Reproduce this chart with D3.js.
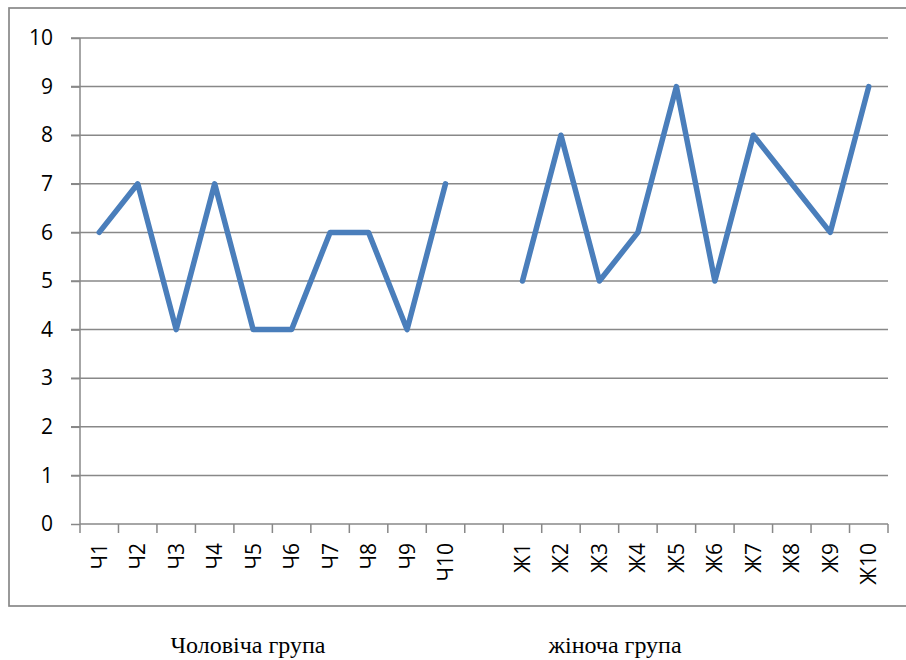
<!DOCTYPE html>
<html>
<head>
<meta charset="utf-8">
<script src="https://cdn.jsdelivr.net/npm/d3@7"></script>
<style>
  body { margin: 0; background: #fff; }
  svg { display: block; }
</style>
</head>
<body>
<svg id="chart" width="906" height="660"></svg>
<script>
// categories (empty one separates the two groups)
var categories = ["Ч1", "Ч2", "Ч3", "Ч4", "Ч5", "Ч6", "Ч7", "Ч8", "Ч9", "Ч10", "",
                  "Ж1", "Ж2", "Ж3", "Ж4", "Ж5", "Ж6", "Ж7", "Ж8", "Ж9", "Ж10"];
var values = [6, 7, 4, 7, 4, 4, 6, 6, 4, 7, null,
              5, 8, 5, 6, 9, 5, 8, 7, 6, 9];
var yTicks = [0, 1, 2, 3, 4, 5, 6, 7, 8, 9, 10];
var groupLabels = ["Чоловіча група", "жіноча група"];

var svg = d3.select("#chart");

var plotL = 80, plotR = 888, plotT = 38, plotB = 524;
var grey = "#888888";
var tickFont = "'Open Sans', sans-serif";

// outer chart border
svg.append("rect")
    .attr("x", 9).attr("y", 8)
    .attr("width", 906).attr("height", 598)
    .style("fill", "none")
    .style("stroke", grey)
    .style("stroke-width", 1.7);

var x = d3.scaleBand().domain(d3.range(categories.length))
    .range([plotL, plotR]).padding(0);
var y = d3.scaleLinear().domain([0, 10]).range([plotB, plotT]);

// gridlines
svg.append("g").selectAll("line")
    .data(yTicks.filter(function(d) { return d > 0; }))
    .enter().append("line")
    .attr("x1", plotL - 9).attr("x2", plotR)
    .attr("y1", function(d) { return y(d); })
    .attr("y2", function(d) { return y(d); })
    .style("stroke", grey)
    .style("stroke-width", 1.5);

// y axis
var yAxis = svg.append("g")
    .attr("transform", "translate(" + plotL + ",0)")
    .call(d3.axisLeft(y).tickValues(yTicks).tickSize(9).tickPadding(18));
yAxis.selectAll("line, path").style("stroke", grey).style("stroke-width", 1.5);
yAxis.select(".domain").attr("d", "M0," + plotB + "V" + plotT);
yAxis.selectAll("text")
    .style("font-family", tickFont)
    .style("font-size", "21px")
    .style("fill", "#000");

// x axis: ticks on band boundaries
var xg = svg.append("g");
xg.append("line")
    .attr("x1", plotL).attr("x2", plotR)
    .attr("y1", plotB).attr("y2", plotB)
    .style("stroke", grey).style("stroke-width", 1.5);
xg.selectAll("line.tick")
    .data(d3.range(categories.length + 1))
    .enter().append("line")
    .attr("class", "tick")
    .attr("x1", function(d) { return plotL + d * x.bandwidth(); })
    .attr("x2", function(d) { return plotL + d * x.bandwidth(); })
    .attr("y1", plotB).attr("y2", plotB + 9)
    .style("stroke", grey).style("stroke-width", 1.5);
xg.selectAll("text")
    .data(categories)
    .enter().append("text")
    .attr("transform", function(d, i) {
        return "translate(" + (x(i) + x.bandwidth() / 2 + 7.5) + "," + (plotB + 19) + ") rotate(-90)";
    })
    .attr("text-anchor", "end")
    .style("font-family", tickFont)
    .style("font-size", "21px")
    .text(function(d) { return d; });

// line
var line = d3.line()
    .defined(function(d) { return d != null; })
    .x(function(d, i) { return x(i) + x.bandwidth() / 2; })
    .y(function(d) { return y(d); });

svg.append("path")
    .datum(values)
    .attr("d", line)
    .style("fill", "none")
    .style("stroke", "#4a7ebb")
    .style("stroke-width", 5.5)
    .style("stroke-linejoin", "round")
    .style("stroke-linecap", "round");

// group labels
var groupX = [248, 615];
svg.selectAll("text.group")
    .data(groupLabels)
    .enter().append("text")
    .attr("class", "group")
    .attr("x", function(d, i) { return groupX[i]; })
    .attr("y", 653)
    .attr("text-anchor", "middle")
    .style("font-family", "'Liberation Serif', 'Times New Roman', serif")
    .style("font-size", "24px")
    .text(function(d) { return d; });
</script>
</body>
</html>
